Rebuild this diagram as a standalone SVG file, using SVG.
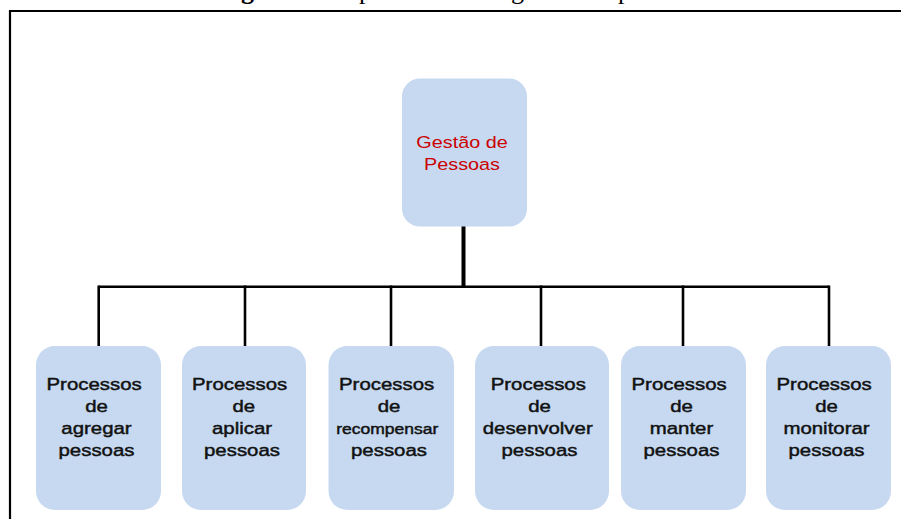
<svg xmlns="http://www.w3.org/2000/svg" width="901" height="519" viewBox="0 0 901 519">
  <style>
    .caption { font-family: "Liberation Serif", "Times New Roman", serif; font-size: 26px; fill: #000; }
    .frame { stroke: #000; stroke-width: 2.2; fill: none; }
    .box { fill: #c6d9f0; }
    .title { font-family: "Liberation Sans", Arial, sans-serif; font-size: 16.5px; fill: #cc0000; text-anchor: middle; }
    .label { font-family: "Liberation Sans", Arial, sans-serif; font-size: 17px; fill: #111; stroke: #111; stroke-width: 0.45; text-anchor: middle; }
    .small { font-size: 14.6px; }
    .wire { stroke: #000; fill: none; stroke-width: 2.6; }
    .trunk { stroke: #000; fill: none; stroke-width: 4; }
  </style>

  <!-- caption above the frame (runs off the top edge) -->
  <g id="caption">
    <text class="caption" x="218" y="-0.6" font-weight="bold">Figura 1 –</text>
    <text class="caption" x="359" y="-0.6">processos de</text>
    <text class="caption" x="511" y="-0.6">gestão de</text>
    <text class="caption" x="618" y="-0.6">pessoas</text>
  </g>

  <!-- frame -->
  <path class="frame" d="M10 519 V11 H901"/>

  <!-- connectors -->
  <g id="connectors">
    <line class="trunk" x1="463.5" y1="226" x2="463.5" y2="287.5"/>
    <line class="wire" x1="98.7" y1="286.7" x2="829" y2="286.7"/>
    <line class="wire" x1="98.7" y1="285.5" x2="98.7" y2="346"/>
    <line class="wire" x1="245" y1="285.5" x2="245" y2="346"/>
    <line class="wire" x1="391" y1="285.5" x2="391" y2="346"/>
    <line class="wire" x1="541" y1="285.5" x2="541" y2="346"/>
    <line class="wire" x1="683" y1="285.5" x2="683" y2="346"/>
    <line class="wire" x1="829" y1="285.5" x2="829" y2="346"/>
  </g>

  <!-- root node -->
  <g id="gestao">
    <rect class="box" x="402" y="78.5" width="125" height="148" rx="18"/>
    <text class="title" transform="translate(462 0) scale(1.2 1)"><tspan x="0" y="148.3">Gestão de</tspan><tspan x="0" y="170">Pessoas</tspan></text>
  </g>

  <!-- process nodes -->
  <g id="agregar">
    <rect class="box" x="36" y="346" width="125" height="164" rx="19"/>
    <text class="label" transform="translate(96.5 0) scale(1.2 1)"><tspan x="-2" y="390.5">Processos</tspan><tspan x="0" y="412">de</tspan><tspan x="0" y="434.5">agregar</tspan><tspan x="0" y="456">pessoas</tspan></text>
  </g>
  <g id="aplicar">
    <rect class="box" x="182" y="346" width="124" height="164" rx="19"/>
    <text class="label" transform="translate(242 0) scale(1.2 1)"><tspan x="-2" y="390.5">Processos</tspan><tspan x="1.5" y="412">de</tspan><tspan x="0" y="434.5">aplicar</tspan><tspan x="0" y="456">pessoas</tspan></text>
  </g>
  <g id="recompensar">
    <rect class="box" x="328.5" y="346" width="125.5" height="164" rx="19"/>
    <text class="label" transform="translate(389 0) scale(1.2 1)"><tspan x="-2" y="390.5">Processos</tspan><tspan x="0" y="412">de</tspan><tspan x="-1.5" y="434.5" class="small">recompensar</tspan><tspan x="0" y="456">pessoas</tspan></text>
  </g>
  <g id="desenvolver">
    <rect class="box" x="475" y="346" width="134" height="164" rx="19"/>
    <text class="label" transform="translate(539.5 0) scale(1.2 1)"><tspan x="-1" y="390.5">Processos</tspan><tspan x="0" y="412">de</tspan><tspan x="-1.5" y="434.5">desenvolver</tspan><tspan x="0" y="456">pessoas</tspan></text>
  </g>
  <g id="manter">
    <rect class="box" x="621" y="346" width="125" height="164" rx="19"/>
    <text class="label" transform="translate(681.5 0) scale(1.2 1)"><tspan x="-2" y="390.5">Processos</tspan><tspan x="0" y="412">de</tspan><tspan x="0" y="434.5">manter</tspan><tspan x="0" y="456">pessoas</tspan></text>
  </g>
  <g id="monitorar">
    <rect class="box" x="766" y="346" width="125" height="164" rx="19"/>
    <text class="label" transform="translate(826.5 0) scale(1.2 1)"><tspan x="-2" y="390.5">Processos</tspan><tspan x="0" y="412">de</tspan><tspan x="0" y="434.5">monitorar</tspan><tspan x="0" y="456">pessoas</tspan></text>
  </g>
</svg>
